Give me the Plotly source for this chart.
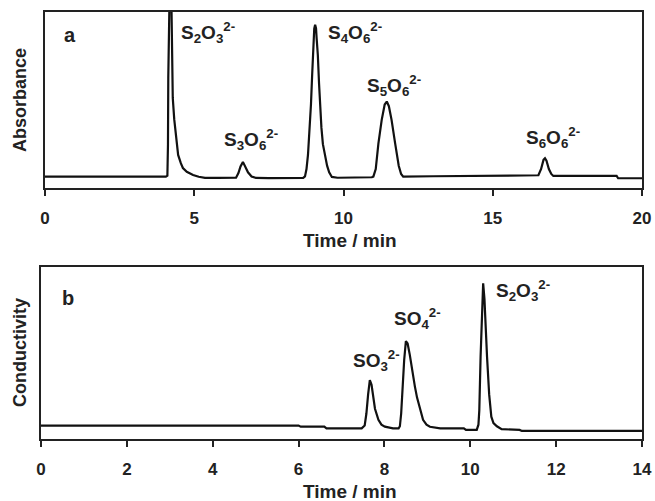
import plotly.graph_objects as go

# ---------------- data ----------------
# (a) absorbance chromatogram, time in min, signal in arbitrary units (clipped at 100)
time_a = [0, 4.05, 4.10, 4.12, 4.13, 4.15, 4.19, 4.24, 4.28, 4.33, 4.38, 4.46,
          4.55, 4.62, 4.75, 4.96, 5.15, 5.36, 5.8, 6.3,
          6.40, 6.48, 6.55, 6.63, 6.70, 6.80, 6.92, 7.07,
          7.5, 8.5, 8.65,
          8.71, 8.76, 8.81, 8.86, 8.91, 8.95, 8.98, 9.02, 9.05, 9.08, 9.10, 9.14, 9.18, 9.21,
          9.26, 9.31, 9.38, 9.45, 9.52, 9.61, 9.8,
          10.5, 10.95,
          11.0, 11.08, 11.17, 11.28, 11.38, 11.45, 11.52, 11.61, 11.73, 11.85, 11.93, 12.0,
          13.0, 16.45,
          16.53, 16.62, 16.70, 16.75, 16.80, 16.88, 16.96, 17.03,
          19.15, 19.2, 20.0]
absorbance_a = [0.4, 0.4, 1, 20, 60, 100, 130, 100, 48, 35, 27.5, 13.5,
                8.5, 5.6, 3.3, 1.4, 0.3, -0.4, -0.4, -0.4,
                -0.3, 2.5, 6.5, 9.3, 7, 3, 0.5, -0.4,
                -0.5, -0.6, -0.4,
                0.5, 5, 13.5, 28, 44, 62, 78, 90, 92.3, 90, 84, 74, 57, 44,
                30, 20, 13.5, 7, 3, 0.2, -0.3,
                -0.3, 0,
                0.4, 5, 20.5, 34.7, 44, 45.8, 43, 34.7, 20.5, 7, 2, 0.4,
                0.6, 0.8,
                1.2, 5, 10.5, 11.5, 10, 5, 2, 0.8,
                0.8, -0.6, -0.6]

# (b) conductivity chromatogram
time_b = [0, 2.6, 2.65, 2.7, 6.0, 6.05, 6.6, 6.65, 7.47,
          7.54, 7.58, 7.62, 7.66, 7.70, 7.74, 7.78, 7.86, 7.93, 8.01, 8.2, 8.33,
          8.36, 8.39, 8.42, 8.46, 8.50, 8.54, 8.59, 8.63, 8.67, 8.71, 8.76, 8.81, 8.90, 8.98,
          9.06, 9.3, 9.85, 9.9, 10.15,
          10.19, 10.21, 10.24, 10.27, 10.30, 10.33, 10.36, 10.39, 10.44, 10.49, 10.54, 10.62,
          10.73, 11.15, 11.2, 14.0]
conductivity_b = [0.4, 0.4, 0.2, 0.4, 0.4, -0.25, -0.25, -1.3, -1.3,
                  0.5, 8, 20, 29, 26, 18, 11, 4, 1, -0.25, -1.3, -1.3,
                  0, 8, 25, 41.6, 53.5, 52, 45, 38, 30, 24.9, 18, 12.3, 4, 1,
                  -0.3, -1.3, -1.3, -2.3, -2.3,
                  1, 10, 43.7, 75, 89.8, 80, 60, 43.7, 20, 6, 2, 0,
                  -1.8, -2.3, -2.95, -2.95]

ticks_a = [0, 5, 10, 15, 20]
ticks_b = [0, 2, 4, 6, 8, 10, 12, 14]

labels_a = ["S<sub>2</sub>O<sub>3</sub><sup>2-</sup>", "S<sub>3</sub>O<sub>6</sub><sup>2-</sup>",
            "S<sub>4</sub>O<sub>6</sub><sup>2-</sup>", "S<sub>5</sub>O<sub>6</sub><sup>2-</sup>",
            "S<sub>6</sub>O<sub>6</sub><sup>2-</sup>"]
labels_b = ["SO<sub>3</sub><sup>2-</sup>", "SO<sub>4</sub><sup>2-</sup>",
            "S<sub>2</sub>O<sub>3</sub><sup>2-</sup>"]

# ---------------- layout helpers ----------------
W, H = 655, 501
def px(x):
    return x / W
def py(y):
    return (H - y) / H

FONT = "Liberation Sans, Arial, sans-serif"
INK = "#222222"

fig = go.Figure()
fig.add_trace(go.Scatter(x=time_a, y=absorbance_a, mode="lines",
                         line=dict(color="#111111", width=2.2), xaxis="x", yaxis="y",
                         showlegend=False, hoverinfo="skip"))
fig.add_trace(go.Scatter(x=time_b, y=conductivity_b, mode="lines",
                         line=dict(color="#111111", width=2.2), xaxis="x2", yaxis="y2",
                         showlegend=False, hoverinfo="skip"))

axis_common = dict(showline=True, mirror=True, linecolor=INK, linewidth=2,
                   showgrid=False, zeroline=False, automargin=False)
xcommon = dict(axis_common, ticks="outside", ticklen=6, tickwidth=2, tickcolor=INK,
               tickfont=dict(family=FONT, size=17, color=INK, weight="bold"),
               ticklabelstandoff=8)
ycommon = dict(axis_common, ticks="", showticklabels=False)

fig.update_layout(
    template="none",
    width=W, height=H,
    margin=dict(l=0, r=0, t=0, b=0),
    paper_bgcolor="white", plot_bgcolor="white",
    xaxis=dict(xcommon, domain=[px(45), px(642)], range=[0, 20], tickvals=ticks_a,
               anchor="y"),
    yaxis=dict(ycommon, domain=[py(188), py(12)], range=[-6.5, 100], anchor="x"),
    xaxis2=dict(xcommon, domain=[px(41), px(642)], range=[0, 14], tickvals=ticks_b,
                anchor="y2"),
    yaxis2=dict(ycommon, domain=[py(439), py(267)], range=[-8, 100], anchor="x2"),
)

ann = []
def text(x, y, s, size=18, angle=0, xanchor="left"):
    ann.append(dict(x=px(x), y=py(y), xref="paper", yref="paper", text=s,
                    showarrow=False, xanchor=xanchor, yanchor="middle", textangle=angle,
                    font=dict(family=FONT, size=size, color=INK, weight="bold")))

# panel letters
text(70, 35, "a", size=20, xanchor="center")
text(68, 298, "b", size=20, xanchor="center")
# axis titles
text(20, 100, "Absorbance", size=18, angle=-90, xanchor="center")
text(20, 353, "Conductivity", size=18, angle=-90, xanchor="center")
text(350, 240, "Time / min", size=19, xanchor="center")
text(350, 491, "Time / min", size=19, xanchor="center")
# peak labels (a)
pos_a = [(179, 33), (222, 140), (326, 33), (365, 85), (524, 138)]
for (x, y), s in zip(pos_a, labels_a):
    text(x, y, s, size=19)
# peak labels (b)
pos_b = [(351, 360), (392, 318), (494, 290)]
for (x, y), s in zip(pos_b, labels_b):
    text(x, y, s, size=19)

fig.update_layout(annotations=ann)
fig.write_html("out.html")
